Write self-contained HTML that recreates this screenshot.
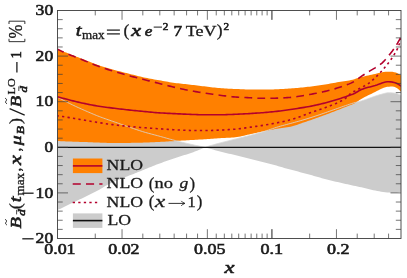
<!DOCTYPE html>
<html><head><meta charset="utf-8"><title>plot</title>
<style>
html,body{margin:0;padding:0;background:#fff;}
body{width:407px;height:278px;overflow:hidden;font-family:"Liberation Serif",serif;}
svg{display:block;will-change:transform;}
text{font-family:"Liberation Serif",serif;fill:#1a1a1a;}
.b{stroke:#1c1c1c;stroke-width:0.62px;}
.i{font-style:italic;}
.r{stroke:#1c1c1c;stroke-width:0.3px;}
.m{stroke:#1c1c1c;stroke-width:0.55px;}
</style></head><body>
<svg width="407" height="278" viewBox="0 0 407 278">
<rect width="407" height="278" fill="#fff"/>
<defs><clipPath id="c"><rect x="57.5" y="10.5" width="343.5" height="228.0"/></clipPath></defs>
<g clip-path="url(#c)">
<path d="M57.50,97.14 L58.99,97.96 L60.48,98.77 L61.98,99.56 L63.47,100.35 L64.96,101.13 L66.45,101.90 L67.94,102.65 L69.44,103.39 L70.93,104.12 L72.42,104.84 L73.91,105.55 L75.40,106.25 L76.89,106.95 L78.39,107.63 L79.88,108.31 L81.37,108.98 L82.86,109.64 L84.35,110.30 L85.85,110.95 L87.34,111.61 L88.83,112.25 L90.32,112.89 L91.81,113.53 L93.31,114.15 L94.80,114.77 L96.29,115.38 L97.78,115.97 L99.27,116.55 L100.77,117.11 L102.26,117.66 L103.75,118.20 L105.24,118.73 L106.73,119.25 L108.23,119.77 L109.72,120.28 L111.21,120.80 L112.70,121.32 L114.19,121.84 L115.68,122.37 L117.18,122.89 L118.67,123.42 L120.16,123.95 L121.65,124.48 L123.14,125.01 L124.64,125.53 L126.13,126.05 L127.62,126.57 L129.11,127.08 L130.60,127.59 L132.10,128.10 L133.59,128.61 L135.08,129.12 L136.57,129.62 L138.06,130.12 L139.56,130.61 L141.05,131.10 L142.54,131.57 L144.03,132.02 L145.52,132.46 L147.02,132.88 L148.51,133.30 L150.00,133.70 L151.49,134.09 L152.98,134.48 L154.47,134.87 L155.97,135.26 L157.46,135.66 L158.95,136.06 L160.44,136.47 L161.93,136.89 L163.43,137.31 L164.92,137.73 L166.41,138.15 L167.90,138.57 L169.39,138.99 L170.89,139.39 L172.38,139.79 L173.87,140.18 L175.36,140.56 L176.85,140.94 L178.35,141.32 L179.84,141.69 L181.33,142.06 L182.82,142.43 L184.31,142.78 L185.81,143.14 L187.30,143.49 L188.79,143.83 L190.28,144.17 L191.77,144.50 L193.26,144.83 L194.76,145.16 L196.25,145.48 L197.74,145.79 L199.23,146.10 L200.72,146.41 L202.22,146.71 L203.71,147.01 L205.20,147.30 L205.20,147.30 L207.18,146.68 L209.16,146.06 L211.13,145.46 L213.11,144.88 L215.09,144.31 L217.07,143.76 L219.04,143.23 L221.02,142.71 L223.00,142.19 L224.98,141.69 L226.96,141.19 L228.93,140.68 L230.91,140.18 L232.89,139.68 L234.87,139.18 L236.84,138.68 L238.82,138.19 L240.80,137.70 L242.78,137.21 L244.76,136.71 L246.73,136.21 L248.71,135.70 L250.69,135.19 L252.67,134.67 L254.64,134.15 L256.62,133.62 L258.60,133.08 L260.58,132.52 L262.56,131.95 L264.53,131.34 L266.51,130.70 L268.49,130.03 L270.47,129.36 L272.44,128.68 L274.42,128.02 L276.40,127.37 L278.38,126.75 L280.36,126.17 L282.33,125.63 L284.31,125.10 L286.29,124.58 L288.27,124.06 L290.24,123.52 L292.22,122.98 L294.20,122.44 L296.18,121.90 L298.16,121.36 L300.13,120.81 L302.11,120.24 L304.09,119.67 L306.07,119.07 L308.04,118.46 L310.02,117.84 L312.00,117.21 L313.98,116.57 L315.96,115.92 L317.93,115.26 L319.91,114.60 L321.89,113.93 L323.87,113.24 L325.84,112.55 L327.82,111.85 L329.80,111.14 L331.78,110.44 L333.76,109.74 L335.73,109.05 L337.71,108.35 L339.69,107.65 L341.67,106.95 L343.64,106.26 L345.62,105.58 L347.60,104.90 L349.58,104.24 L351.56,103.59 L353.53,102.98 L355.51,102.43 L357.49,101.95 L359.47,101.48 L361.44,100.95 L363.42,100.34 L365.40,99.64 L367.38,98.90 L369.36,98.16 L371.33,97.45 L373.31,96.78 L375.29,96.11 L377.27,95.46 L379.24,94.86 L381.22,94.32 L383.20,93.76 L385.18,93.23 L387.16,92.87 L389.13,92.81 L391.11,92.87 L393.09,92.96 L395.07,93.14 L397.04,93.67 L399.02,94.52 L401.00,95.54 L401.00,191.76 L399.02,192.27 L397.04,192.63 L395.07,192.72 L393.09,192.70 L391.11,192.66 L389.13,192.61 L387.16,192.52 L385.18,192.33 L383.20,192.05 L381.22,191.70 L379.24,191.32 L377.27,190.94 L375.29,190.57 L373.31,190.17 L371.33,189.72 L369.36,189.26 L367.38,188.78 L365.40,188.29 L363.42,187.82 L361.44,187.37 L359.47,186.94 L357.49,186.51 L355.51,186.08 L353.53,185.66 L351.56,185.23 L349.58,184.80 L347.60,184.37 L345.62,183.92 L343.64,183.47 L341.67,183.02 L339.69,182.57 L337.71,182.11 L335.73,181.65 L333.76,181.18 L331.78,180.71 L329.80,180.22 L327.82,179.73 L325.84,179.22 L323.87,178.69 L321.89,178.15 L319.91,177.60 L317.93,177.04 L315.96,176.47 L313.98,175.90 L312.00,175.34 L310.02,174.79 L308.04,174.24 L306.07,173.71 L304.09,173.18 L302.11,172.66 L300.13,172.14 L298.16,171.62 L296.18,171.10 L294.20,170.58 L292.22,170.06 L290.24,169.53 L288.27,168.99 L286.29,168.44 L284.31,167.88 L282.33,167.31 L280.36,166.75 L278.38,166.18 L276.40,165.62 L274.42,165.07 L272.44,164.52 L270.47,163.99 L268.49,163.47 L266.51,162.96 L264.53,162.46 L262.56,161.97 L260.58,161.48 L258.60,160.99 L256.62,160.51 L254.64,160.02 L252.67,159.53 L250.69,159.04 L248.71,158.54 L246.73,158.05 L244.76,157.56 L242.78,157.07 L240.80,156.58 L238.82,156.08 L236.84,155.59 L234.87,155.10 L232.89,154.61 L230.91,154.12 L228.93,153.63 L226.96,153.15 L224.98,152.67 L223.00,152.18 L221.02,151.69 L219.04,151.19 L217.07,150.68 L215.09,150.15 L213.11,149.61 L211.13,149.05 L209.16,148.48 L207.18,147.89 L205.20,147.30 L205.20,147.30 L203.71,147.96 L202.22,148.61 L200.72,149.24 L199.23,149.86 L197.74,150.46 L196.25,151.05 L194.76,151.61 L193.26,152.14 L191.77,152.67 L190.28,153.17 L188.79,153.67 L187.30,154.15 L185.81,154.63 L184.31,155.11 L182.82,155.58 L181.33,156.06 L179.84,156.54 L178.35,157.03 L176.85,157.53 L175.36,158.04 L173.87,158.54 L172.38,159.04 L170.89,159.55 L169.39,160.06 L167.90,160.57 L166.41,161.08 L164.92,161.60 L163.43,162.12 L161.93,162.65 L160.44,163.19 L158.95,163.74 L157.46,164.30 L155.97,164.87 L154.47,165.44 L152.98,166.03 L151.49,166.63 L150.00,167.23 L148.51,167.84 L147.02,168.45 L145.52,169.06 L144.03,169.67 L142.54,170.29 L141.05,170.90 L139.56,171.51 L138.06,172.12 L136.57,172.71 L135.08,173.30 L133.59,173.89 L132.10,174.47 L130.60,175.05 L129.11,175.62 L127.62,176.20 L126.13,176.79 L124.64,177.37 L123.14,177.96 L121.65,178.56 L120.16,179.17 L118.67,179.79 L117.18,180.42 L115.68,181.06 L114.19,181.71 L112.70,182.39 L111.21,183.08 L109.72,183.78 L108.23,184.51 L106.73,185.26 L105.24,186.07 L103.75,186.97 L102.26,187.91 L100.77,188.84 L99.27,189.71 L97.78,190.52 L96.29,191.31 L94.80,192.08 L93.31,192.84 L91.81,193.58 L90.32,194.31 L88.83,195.04 L87.34,195.76 L85.85,196.48 L84.35,197.21 L82.86,197.94 L81.37,198.66 L79.88,199.37 L78.39,200.08 L76.89,200.79 L75.40,201.50 L73.91,202.20 L72.42,202.91 L70.93,203.62 L69.44,204.34 L67.94,205.05 L66.45,205.77 L64.96,206.49 L63.47,207.21 L61.98,207.93 L60.48,208.65 L58.99,209.37 L57.50,210.09 Z" fill="#CCCCCC"/>
<path d="M57.50,49.26 L59.23,49.93 L60.95,50.60 L62.68,51.27 L64.40,51.94 L66.13,52.62 L67.86,53.29 L69.58,53.96 L71.31,54.63 L73.04,55.30 L74.76,55.97 L76.49,56.64 L78.21,57.31 L79.94,57.98 L81.67,58.65 L83.39,59.32 L85.12,59.99 L86.84,60.67 L88.57,61.36 L90.30,62.05 L92.02,62.73 L93.75,63.41 L95.47,64.07 L97.20,64.70 L98.93,65.31 L100.65,65.89 L102.38,66.45 L104.11,66.99 L105.83,67.52 L107.56,68.03 L109.28,68.54 L111.01,69.03 L112.74,69.52 L114.46,70.00 L116.19,70.47 L117.91,70.92 L119.64,71.37 L121.37,71.81 L123.09,72.24 L124.82,72.67 L126.55,73.10 L128.27,73.53 L130.00,73.96 L131.72,74.40 L133.45,74.84 L135.18,75.29 L136.90,75.73 L138.63,76.16 L140.35,76.59 L142.08,77.00 L143.81,77.38 L145.53,77.75 L147.26,78.10 L148.98,78.43 L150.71,78.75 L152.44,79.07 L154.16,79.38 L155.89,79.68 L157.62,79.99 L159.34,80.29 L161.07,80.60 L162.79,80.92 L164.52,81.23 L166.25,81.54 L167.97,81.84 L169.70,82.14 L171.42,82.41 L173.15,82.68 L174.88,82.92 L176.60,83.14 L178.33,83.35 L180.06,83.55 L181.78,83.74 L183.51,83.92 L185.23,84.10 L186.96,84.29 L188.69,84.48 L190.41,84.68 L192.14,84.89 L193.86,85.10 L195.59,85.31 L197.32,85.52 L199.04,85.73 L200.77,85.94 L202.49,86.14 L204.22,86.35 L205.95,86.55 L207.67,86.76 L209.40,86.97 L211.13,87.18 L212.85,87.39 L214.58,87.58 L216.30,87.76 L218.03,87.92 L219.76,88.06 L221.48,88.19 L223.21,88.31 L224.93,88.42 L226.66,88.53 L228.39,88.63 L230.11,88.72 L231.84,88.81 L233.57,88.89 L235.29,88.97 L237.02,89.05 L238.74,89.12 L240.47,89.20 L242.20,89.27 L243.92,89.33 L245.65,89.39 L247.37,89.43 L249.10,89.47 L250.83,89.50 L252.55,89.52 L254.28,89.54 L256.01,89.56 L257.73,89.58 L259.46,89.60 L261.18,89.61 L262.91,89.61 L264.64,89.62 L266.36,89.60 L268.09,89.58 L269.81,89.53 L271.54,89.48 L273.27,89.41 L274.99,89.34 L276.72,89.27 L278.44,89.19 L280.17,89.12 L281.90,89.03 L283.62,88.93 L285.35,88.83 L287.08,88.71 L288.80,88.59 L290.53,88.46 L292.25,88.33 L293.98,88.20 L295.71,88.06 L297.43,87.91 L299.16,87.76 L300.88,87.59 L302.61,87.42 L304.34,87.24 L306.06,87.06 L307.79,86.87 L309.52,86.67 L311.24,86.47 L312.97,86.25 L314.69,86.03 L316.42,85.80 L318.15,85.55 L319.87,85.30 L321.60,85.05 L323.32,84.78 L325.05,84.51 L326.78,84.22 L328.50,83.92 L330.23,83.60 L331.95,83.28 L333.68,82.95 L335.41,82.63 L337.13,82.31 L338.86,82.01 L340.59,81.73 L342.31,81.48 L344.04,81.24 L345.76,80.99 L347.49,80.72 L349.22,80.42 L350.94,80.07 L352.67,79.63 L354.39,79.14 L356.12,78.62 L357.85,78.09 L359.57,77.57 L361.30,77.09 L363.03,76.65 L364.75,76.23 L366.48,75.83 L368.20,75.43 L369.93,75.04 L371.66,74.66 L373.38,74.28 L375.11,73.91 L376.83,73.54 L378.56,73.12 L380.29,72.68 L382.01,72.28 L383.74,71.97 L385.46,71.83 L387.19,71.76 L388.92,71.72 L390.64,71.70 L392.37,71.78 L394.10,72.13 L395.82,72.60 L397.55,73.25 L399.27,74.15 L401.00,75.25 L401.00,91.67 L399.27,89.95 L397.55,88.61 L395.82,87.62 L394.10,86.82 L392.37,86.56 L390.64,86.61 L388.92,86.70 L387.19,86.84 L385.46,87.14 L383.74,87.78 L382.01,88.57 L380.29,89.33 L378.56,90.15 L376.83,91.02 L375.11,91.93 L373.38,92.84 L371.66,93.71 L369.93,94.55 L368.20,95.36 L366.48,96.18 L364.75,97.02 L363.03,97.91 L361.30,98.88 L359.57,100.04 L357.85,101.30 L356.12,102.52 L354.39,103.56 L352.67,104.32 L350.94,104.93 L349.22,105.54 L347.49,106.21 L345.76,106.89 L344.04,107.58 L342.31,108.27 L340.59,108.97 L338.86,109.67 L337.13,110.36 L335.41,111.04 L333.68,111.70 L331.95,112.36 L330.23,113.02 L328.50,113.67 L326.78,114.31 L325.05,114.95 L323.32,115.59 L321.60,116.22 L319.87,116.84 L318.15,117.46 L316.42,118.08 L314.69,118.69 L312.97,119.30 L311.24,119.90 L309.52,120.50 L307.79,121.09 L306.06,121.67 L304.34,122.25 L302.61,122.84 L300.88,123.45 L299.16,124.07 L297.43,124.67 L295.71,125.25 L293.98,125.78 L292.25,126.26 L290.53,126.67 L288.80,127.00 L287.08,127.28 L285.35,127.52 L283.62,127.75 L281.90,127.98 L280.17,128.22 L278.44,128.50 L276.72,128.79 L274.99,129.10 L273.27,129.41 L271.54,129.73 L269.81,130.06 L268.09,130.40 L266.36,130.74 L264.64,131.08 L262.91,131.44 L261.18,131.81 L259.46,132.19 L257.73,132.58 L256.01,132.97 L254.28,133.35 L252.55,133.74 L250.83,134.11 L249.10,134.48 L247.37,134.86 L245.65,135.26 L243.92,135.66 L242.20,136.05 L240.47,136.42 L238.74,136.75 L237.02,137.03 L235.29,137.24 L233.57,137.39 L231.84,137.52 L230.11,137.64 L228.39,137.73 L226.66,137.82 L224.93,137.91 L223.21,138.00 L221.48,138.09 L219.76,138.19 L218.03,138.30 L216.30,138.42 L214.58,138.55 L212.85,138.68 L211.13,138.81 L209.40,138.93 L207.67,139.06 L205.95,139.18 L204.22,139.29 L202.49,139.40 L200.77,139.50 L199.04,139.61 L197.32,139.70 L195.59,139.80 L193.86,139.90 L192.14,140.00 L190.41,140.10 L188.69,140.20 L186.96,140.30 L185.23,140.41 L183.51,140.51 L181.78,140.61 L180.06,140.72 L178.33,140.82 L176.60,140.93 L174.88,141.03 L173.15,141.13 L171.42,141.24 L169.70,141.35 L167.97,141.46 L166.25,141.57 L164.52,141.67 L162.79,141.77 L161.07,141.87 L159.34,141.95 L157.62,142.03 L155.89,142.12 L154.16,142.19 L152.44,142.27 L150.71,142.34 L148.98,142.41 L147.26,142.47 L145.53,142.53 L143.81,142.58 L142.08,142.63 L140.35,142.67 L138.63,142.72 L136.90,142.76 L135.18,142.80 L133.45,142.83 L131.72,142.86 L130.00,142.88 L128.27,142.89 L126.55,142.91 L124.82,142.92 L123.09,142.93 L121.37,142.95 L119.64,142.96 L117.91,142.96 L116.19,142.97 L114.46,142.97 L112.74,142.96 L111.01,142.94 L109.28,142.92 L107.56,142.88 L105.83,142.84 L104.11,142.79 L102.38,142.73 L100.65,142.67 L98.93,142.60 L97.20,142.54 L95.47,142.47 L93.75,142.39 L92.02,142.32 L90.30,142.25 L88.57,142.19 L86.84,142.12 L85.12,142.06 L83.39,142.00 L81.67,141.94 L79.94,141.88 L78.21,141.82 L76.49,141.76 L74.76,141.70 L73.04,141.64 L71.31,141.58 L69.58,141.51 L67.86,141.45 L66.13,141.38 L64.40,141.32 L62.68,141.25 L60.95,141.19 L59.23,141.12 L57.50,141.05 Z" fill="#FF8000"/>
<path d="M57.50,97.14 L58.99,97.96 L60.48,98.77 L61.98,99.56 L63.47,100.35 L64.96,101.13 L66.45,101.90 L67.94,102.65 L69.44,103.39 L70.93,104.12 L72.42,104.84 L73.91,105.55 L75.40,106.25 L76.89,106.95 L78.39,107.63 L79.88,108.31 L81.37,108.98 L82.86,109.64 L84.35,110.30 L85.85,110.95 L87.34,111.61 L88.83,112.25 L90.32,112.89 L91.81,113.53 L93.31,114.15 L94.80,114.77 L96.29,115.38 L97.78,115.97 L99.27,116.55 L100.77,117.11 L102.26,117.66 L103.75,118.20 L105.24,118.73 L106.73,119.25 L108.23,119.77 L109.72,120.28 L111.21,120.80 L112.70,121.32 L114.19,121.84 L115.68,122.37 L117.18,122.89 L118.67,123.42 L120.16,123.95 L121.65,124.48 L123.14,125.01 L124.64,125.53 L126.13,126.05 L127.62,126.57 L129.11,127.08 L130.60,127.59 L132.10,128.10 L133.59,128.61 L135.08,129.12 L136.57,129.62 L138.06,130.12 L139.56,130.61 L141.05,131.10 L142.54,131.57 L144.03,132.02 L145.52,132.46 L147.02,132.88 L148.51,133.30 L150.00,133.70 L151.49,134.09 L152.98,134.48 L154.47,134.87 L155.97,135.26 L157.46,135.66 L158.95,136.06 L160.44,136.47 L161.93,136.89 L163.43,137.31 L164.92,137.73 L166.41,138.15 L167.90,138.57 L169.39,138.99 L170.89,139.39 L172.38,139.79 L173.87,140.18 L175.36,140.56 L176.85,140.94 L178.35,141.32 L179.84,141.69 L181.33,142.06 L182.82,142.43 L184.31,142.78 L185.81,143.14 L187.30,143.49 L188.79,143.83 L190.28,144.17 L191.77,144.50 L193.26,144.83 L194.76,145.16 L196.25,145.48 L197.74,145.79 L199.23,146.10 L200.72,146.41 L202.22,146.71 L203.71,147.01 L205.20,147.30 L205.20,147.30 L207.18,146.68 L209.16,146.06 L211.13,145.46 L213.11,144.88 L215.09,144.31 L217.07,143.76 L219.04,143.23 L221.02,142.71 L223.00,142.19 L224.98,141.69 L226.96,141.19 L228.93,140.68 L230.91,140.18 L232.89,139.68 L234.87,139.18 L236.84,138.68 L238.82,138.19 L240.80,137.70 L242.78,137.21 L244.76,136.71 L246.73,136.21 L248.71,135.70 L250.69,135.19 L252.67,134.67 L254.64,134.15 L256.62,133.62 L258.60,133.08 L260.58,132.52 L262.56,131.95 L264.53,131.34 L266.51,130.70 L268.49,130.03 L270.47,129.36 L272.44,128.68 L274.42,128.02 L276.40,127.37 L278.38,126.75 L280.36,126.17 L282.33,125.63 L284.31,125.10 L286.29,124.58 L288.27,124.06 L290.24,123.52 L292.22,122.98 L294.20,122.44 L296.18,121.90 L298.16,121.36 L300.13,120.81 L302.11,120.24 L304.09,119.67 L306.07,119.07 L308.04,118.46 L310.02,117.84 L312.00,117.21 L313.98,116.57 L315.96,115.92 L317.93,115.26 L319.91,114.60 L321.89,113.93 L323.87,113.24 L325.84,112.55 L327.82,111.85 L329.80,111.14 L331.78,110.44 L333.76,109.74 L335.73,109.05 L337.71,108.35 L339.69,107.65 L341.67,106.95 L343.64,106.26 L345.62,105.58 L347.60,104.90 L349.58,104.24 L351.56,103.59 L353.53,102.98 L355.51,102.43 L357.49,101.95 L359.47,101.48 L361.44,100.95 L363.42,100.34 L365.40,99.64 L367.38,98.90 L369.36,98.16 L371.33,97.45 L373.31,96.78 L375.29,96.11 L377.27,95.46 L379.24,94.86 L381.22,94.32 L383.20,93.76 L385.18,93.23 L387.16,92.87 L389.13,92.81 L391.11,92.87 L393.09,92.96 L395.07,93.14 L397.04,93.67 L399.02,94.52 L401.00,95.54" fill="none" stroke="#d8d8d8" stroke-width="0.8"/>
<path d="M57.5,147.3 L401.0,147.3" stroke="#111" stroke-width="1.2" fill="none"/>
<path d="M57.50,96.68 L59.23,97.18 L60.95,97.67 L62.68,98.15 L64.40,98.62 L66.13,99.08 L67.86,99.54 L69.58,99.98 L71.31,100.42 L73.04,100.86 L74.76,101.28 L76.49,101.71 L78.21,102.12 L79.94,102.52 L81.67,102.91 L83.39,103.29 L85.12,103.65 L86.84,104.01 L88.57,104.35 L90.30,104.69 L92.02,105.02 L93.75,105.34 L95.47,105.64 L97.20,105.94 L98.93,106.22 L100.65,106.48 L102.38,106.74 L104.11,106.98 L105.83,107.21 L107.56,107.44 L109.28,107.66 L111.01,107.88 L112.74,108.09 L114.46,108.31 L116.19,108.52 L117.91,108.73 L119.64,108.93 L121.37,109.13 L123.09,109.32 L124.82,109.52 L126.55,109.71 L128.27,109.89 L130.00,110.08 L131.72,110.26 L133.45,110.43 L135.18,110.61 L136.90,110.78 L138.63,110.94 L140.35,111.11 L142.08,111.28 L143.81,111.44 L145.53,111.60 L147.26,111.77 L148.98,111.94 L150.71,112.11 L152.44,112.27 L154.16,112.43 L155.89,112.58 L157.62,112.71 L159.34,112.84 L161.07,112.95 L162.79,113.05 L164.52,113.15 L166.25,113.24 L167.97,113.33 L169.70,113.41 L171.42,113.50 L173.15,113.58 L174.88,113.67 L176.60,113.75 L178.33,113.83 L180.06,113.92 L181.78,114.00 L183.51,114.08 L185.23,114.15 L186.96,114.23 L188.69,114.29 L190.41,114.36 L192.14,114.43 L193.86,114.50 L195.59,114.57 L197.32,114.63 L199.04,114.69 L200.77,114.74 L202.49,114.77 L204.22,114.79 L205.95,114.79 L207.67,114.79 L209.40,114.79 L211.13,114.79 L212.85,114.79 L214.58,114.79 L216.30,114.79 L218.03,114.79 L219.76,114.79 L221.48,114.77 L223.21,114.74 L224.93,114.69 L226.66,114.64 L228.39,114.57 L230.11,114.51 L231.84,114.44 L233.57,114.37 L235.29,114.30 L237.02,114.23 L238.74,114.15 L240.47,114.07 L242.20,113.98 L243.92,113.88 L245.65,113.79 L247.37,113.69 L249.10,113.59 L250.83,113.49 L252.55,113.39 L254.28,113.28 L256.01,113.17 L257.73,113.06 L259.46,112.94 L261.18,112.81 L262.91,112.68 L264.64,112.54 L266.36,112.40 L268.09,112.24 L269.81,112.07 L271.54,111.90 L273.27,111.72 L274.99,111.53 L276.72,111.34 L278.44,111.14 L280.17,110.93 L281.90,110.71 L283.62,110.48 L285.35,110.23 L287.08,109.98 L288.80,109.73 L290.53,109.47 L292.25,109.20 L293.98,108.94 L295.71,108.68 L297.43,108.42 L299.16,108.15 L300.88,107.89 L302.61,107.62 L304.34,107.34 L306.06,107.05 L307.79,106.75 L309.52,106.43 L311.24,106.10 L312.97,105.75 L314.69,105.38 L316.42,105.00 L318.15,104.61 L319.87,104.21 L321.60,103.79 L323.32,103.36 L325.05,102.93 L326.78,102.48 L328.50,102.01 L330.23,101.52 L331.95,101.02 L333.68,100.52 L335.41,100.00 L337.13,99.47 L338.86,98.93 L340.59,98.39 L342.31,97.83 L344.04,97.25 L345.76,96.66 L347.49,96.06 L349.22,95.46 L350.94,94.85 L352.67,94.19 L354.39,93.45 L356.12,92.51 L357.85,91.46 L359.57,90.43 L361.30,89.55 L363.03,88.89 L364.75,88.32 L366.48,87.81 L368.20,87.35 L369.93,86.91 L371.66,86.47 L373.38,86.02 L375.11,85.53 L376.83,84.99 L378.56,84.35 L380.29,83.66 L382.01,83.01 L383.74,82.49 L385.46,82.08 L387.19,81.76 L388.92,81.69 L390.64,81.83 L392.37,82.10 L394.10,82.43 L395.82,82.96 L397.55,83.82 L399.27,84.92 L401.00,86.20" fill="none" stroke="#B3002D" stroke-width="1.6"/>
<path d="M57.50,49.26 L59.23,50.07 L60.95,50.86 L62.68,51.65 L64.40,52.43 L66.13,53.19 L67.86,53.94 L69.58,54.68 L71.31,55.41 L73.04,56.11 L74.76,56.81 L76.49,57.49 L78.21,58.18 L79.94,58.85 L81.67,59.53 L83.39,60.22 L85.12,60.91 L86.84,61.62 L88.57,62.34 L90.30,63.06 L92.02,63.78 L93.75,64.49 L95.47,65.18 L97.20,65.85 L98.93,66.49 L100.65,67.10 L102.38,67.69 L104.11,68.26 L105.83,68.82 L107.56,69.37 L109.28,69.90 L111.01,70.43 L112.74,70.95 L114.46,71.46 L116.19,71.98 L117.91,72.49 L119.64,73.00 L121.37,73.50 L123.09,74.00 L124.82,74.49 L126.55,74.98 L128.27,75.46 L130.00,75.94 L131.72,76.41 L133.45,76.88 L135.18,77.34 L136.90,77.79 L138.63,78.23 L140.35,78.67 L142.08,79.10 L143.81,79.54 L145.53,79.97 L147.26,80.41 L148.98,80.85 L150.71,81.29 L152.44,81.74 L154.16,82.18 L155.89,82.62 L157.62,83.06 L159.34,83.50 L161.07,83.94 L162.79,84.38 L164.52,84.82 L166.25,85.26 L167.97,85.70 L169.70,86.14 L171.42,86.57 L173.15,86.99 L174.88,87.40 L176.60,87.80 L178.33,88.20 L180.06,88.59 L181.78,88.97 L183.51,89.33 L185.23,89.68 L186.96,90.02 L188.69,90.35 L190.41,90.67 L192.14,90.99 L193.86,91.30 L195.59,91.60 L197.32,91.89 L199.04,92.17 L200.77,92.44 L202.49,92.70 L204.22,92.96 L205.95,93.22 L207.67,93.47 L209.40,93.72 L211.13,93.98 L212.85,94.23 L214.58,94.49 L216.30,94.74 L218.03,94.99 L219.76,95.23 L221.48,95.45 L223.21,95.67 L224.93,95.89 L226.66,96.10 L228.39,96.31 L230.11,96.51 L231.84,96.68 L233.57,96.84 L235.29,96.97 L237.02,97.08 L238.74,97.19 L240.47,97.28 L242.20,97.37 L243.92,97.45 L245.65,97.53 L247.37,97.62 L249.10,97.70 L250.83,97.80 L252.55,97.91 L254.28,98.02 L256.01,98.13 L257.73,98.23 L259.46,98.29 L261.18,98.32 L262.91,98.32 L264.64,98.32 L266.36,98.30 L268.09,98.29 L269.81,98.26 L271.54,98.24 L273.27,98.21 L274.99,98.19 L276.72,98.15 L278.44,98.09 L280.17,98.03 L281.90,97.95 L283.62,97.86 L285.35,97.77 L287.08,97.66 L288.80,97.55 L290.53,97.40 L292.25,97.21 L293.98,97.01 L295.71,96.79 L297.43,96.56 L299.16,96.31 L300.88,96.04 L302.61,95.76 L304.34,95.46 L306.06,95.15 L307.79,94.84 L309.52,94.53 L311.24,94.22 L312.97,93.90 L314.69,93.57 L316.42,93.24 L318.15,92.90 L319.87,92.55 L321.60,92.18 L323.32,91.80 L325.05,91.40 L326.78,90.98 L328.50,90.55 L330.23,90.09 L331.95,89.62 L333.68,89.13 L335.41,88.62 L337.13,88.09 L338.86,87.54 L340.59,86.98 L342.31,86.41 L344.04,85.82 L345.76,85.21 L347.49,84.56 L349.22,83.87 L350.94,83.12 L352.67,82.31 L354.39,81.42 L356.12,80.30 L357.85,79.00 L359.57,77.66 L361.30,76.42 L363.03,75.26 L364.75,74.12 L366.48,73.01 L368.20,71.93 L369.93,70.88 L371.66,69.88 L373.38,68.90 L375.11,67.90 L376.83,66.83 L378.56,65.71 L380.29,64.47 L382.01,63.03 L383.74,61.36 L385.46,59.53 L387.19,57.57 L388.92,55.41 L390.64,53.20 L392.37,50.97 L394.10,48.61 L395.82,46.02 L397.55,43.20 L399.27,40.17 L401.00,36.95" fill="none" stroke="#B3002D" stroke-width="1.6" stroke-dasharray="7.8 5.2" stroke-dashoffset="1"/>
<path d="M57.50,115.84 L59.23,116.08 L60.95,116.33 L62.68,116.58 L64.40,116.84 L66.13,117.10 L67.86,117.37 L69.58,117.64 L71.31,117.92 L73.04,118.21 L74.76,118.51 L76.49,118.81 L78.21,119.11 L79.94,119.42 L81.67,119.72 L83.39,120.02 L85.12,120.32 L86.84,120.61 L88.57,120.91 L90.30,121.21 L92.02,121.50 L93.75,121.79 L95.47,122.08 L97.20,122.36 L98.93,122.63 L100.65,122.90 L102.38,123.16 L104.11,123.42 L105.83,123.68 L107.56,123.93 L109.28,124.17 L111.01,124.41 L112.74,124.64 L114.46,124.86 L116.19,125.07 L117.91,125.28 L119.64,125.49 L121.37,125.69 L123.09,125.88 L124.82,126.07 L126.55,126.24 L128.27,126.42 L130.00,126.58 L131.72,126.73 L133.45,126.88 L135.18,127.02 L136.90,127.16 L138.63,127.30 L140.35,127.43 L142.08,127.56 L143.81,127.69 L145.53,127.82 L147.26,127.94 L148.98,128.07 L150.71,128.19 L152.44,128.32 L154.16,128.44 L155.89,128.56 L157.62,128.68 L159.34,128.80 L161.07,128.92 L162.79,129.04 L164.52,129.16 L166.25,129.28 L167.97,129.40 L169.70,129.51 L171.42,129.62 L173.15,129.72 L174.88,129.81 L176.60,129.90 L178.33,129.99 L180.06,130.08 L181.78,130.16 L183.51,130.24 L185.23,130.31 L186.96,130.37 L188.69,130.41 L190.41,130.44 L192.14,130.46 L193.86,130.49 L195.59,130.51 L197.32,130.53 L199.04,130.54 L200.77,130.55 L202.49,130.56 L204.22,130.56 L205.95,130.56 L207.67,130.53 L209.40,130.49 L211.13,130.44 L212.85,130.37 L214.58,130.30 L216.30,130.23 L218.03,130.16 L219.76,130.09 L221.48,130.01 L223.21,129.94 L224.93,129.85 L226.66,129.76 L228.39,129.66 L230.11,129.56 L231.84,129.44 L233.57,129.31 L235.29,129.18 L237.02,129.01 L238.74,128.81 L240.47,128.60 L242.20,128.36 L243.92,128.12 L245.65,127.86 L247.37,127.61 L249.10,127.36 L250.83,127.13 L252.55,126.89 L254.28,126.64 L256.01,126.39 L257.73,126.14 L259.46,125.88 L261.18,125.62 L262.91,125.35 L264.64,125.07 L266.36,124.79 L268.09,124.49 L269.81,124.20 L271.54,123.89 L273.27,123.58 L274.99,123.25 L276.72,122.91 L278.44,122.56 L280.17,122.20 L281.90,121.82 L283.62,121.43 L285.35,121.02 L287.08,120.60 L288.80,120.16 L290.53,119.70 L292.25,119.22 L293.98,118.73 L295.71,118.20 L297.43,117.63 L299.16,117.01 L300.88,116.37 L302.61,115.71 L304.34,115.04 L306.06,114.37 L307.79,113.71 L309.52,113.07 L311.24,112.46 L312.97,111.87 L314.69,111.28 L316.42,110.69 L318.15,110.10 L319.87,109.51 L321.60,108.91 L323.32,108.29 L325.05,107.65 L326.78,107.02 L328.50,106.38 L330.23,105.74 L331.95,105.09 L333.68,104.41 L335.41,103.69 L337.13,102.94 L338.86,102.14 L340.59,101.28 L342.31,100.37 L344.04,99.36 L345.76,98.21 L347.49,96.80 L349.22,94.86 L350.94,93.10 L352.67,92.06 L354.39,91.31 L356.12,90.52 L357.85,89.53 L359.57,88.48 L361.30,87.51 L363.03,86.63 L364.75,85.74 L366.48,84.74 L368.20,83.66 L369.93,82.43 L371.66,80.97 L373.38,79.35 L375.11,77.72 L376.83,76.07 L378.56,74.35 L380.29,72.55 L382.01,70.67 L383.74,68.72 L385.46,66.69 L387.19,64.56 L388.92,62.31 L390.64,59.96 L392.37,57.51 L394.10,54.78 L395.82,51.78 L397.55,48.66 L399.27,44.02 L401.00,38.77" fill="none" stroke="#B3002D" stroke-width="1.6" stroke-dasharray="2.3 3.25" stroke-dashoffset="1"/>
</g>

<rect x="72.9" y="158.5" width="29.5" height="14.6" fill="#FF8000"/>
<path d="M72.9,165.9 H102.4" stroke="#B3002D" stroke-width="1.6"/>
<path d="M72.7,184.0 H102.5" stroke="#B3002D" stroke-width="1.6" stroke-dasharray="8.1 5.2"/>
<path d="M72.7,202.5 H99" stroke="#B3002D" stroke-width="1.6" stroke-dasharray="2.3 3.25"/>
<rect x="72.9" y="213.4" width="29.5" height="14.5" fill="#CCCCCC"/>
<path d="M72.9,220.6 H102.4" stroke="#111" stroke-width="1.6"/>

<path d="M95.26,238.5 v-4.9 M95.26,10.5 v4.9 M122.04,238.5 v-9.3 M122.04,10.5 v9.3 M142.82,238.5 v-4.9 M142.82,10.5 v4.9 M159.80,238.5 v-4.9 M159.80,10.5 v4.9 M174.15,238.5 v-4.9 M174.15,10.5 v4.9 M186.59,238.5 v-4.9 M186.59,10.5 v4.9 M197.56,238.5 v-4.9 M197.56,10.5 v4.9 M207.37,238.5 v-9.3 M207.37,10.5 v9.3 M216.24,238.5 v-4.9 M216.24,10.5 v4.9 M224.34,238.5 v-4.9 M224.34,10.5 v4.9 M231.80,238.5 v-4.9 M231.80,10.5 v4.9 M238.70,238.5 v-4.9 M238.70,10.5 v4.9 M245.12,238.5 v-4.9 M245.12,10.5 v4.9 M251.13,238.5 v-4.9 M251.13,10.5 v4.9 M256.78,238.5 v-4.9 M256.78,10.5 v4.9 M262.10,238.5 v-4.9 M262.10,10.5 v4.9 M267.14,238.5 v-4.9 M267.14,10.5 v4.9 M271.91,238.5 v-9.3 M271.91,10.5 v9.3 M271.91,238.5 v-9.3 M271.91,10.5 v9.3 M309.67,238.5 v-4.9 M309.67,10.5 v4.9 M336.46,238.5 v-9.3 M336.46,10.5 v9.3 M357.23,238.5 v-4.9 M357.23,10.5 v4.9 M374.21,238.5 v-4.9 M374.21,10.5 v4.9 M388.57,238.5 v-4.9 M388.57,10.5 v4.9 M57.5,229.38 h5.2 M401.0,229.38 h-5.2 M57.5,220.26 h5.2 M401.0,220.26 h-5.2 M57.5,211.14 h5.2 M401.0,211.14 h-5.2 M57.5,202.02 h5.2 M401.0,202.02 h-5.2 M57.5,192.90 h10.5 M401.0,192.90 h-10.5 M57.5,183.78 h5.2 M401.0,183.78 h-5.2 M57.5,174.66 h5.2 M401.0,174.66 h-5.2 M57.5,165.54 h5.2 M401.0,165.54 h-5.2 M57.5,156.42 h5.2 M401.0,156.42 h-5.2 M57.5,147.30 h10.5 M401.0,147.30 h-10.5 M57.5,138.18 h5.2 M401.0,138.18 h-5.2 M57.5,129.06 h5.2 M401.0,129.06 h-5.2 M57.5,119.94 h5.2 M401.0,119.94 h-5.2 M57.5,110.82 h5.2 M401.0,110.82 h-5.2 M57.5,101.70 h10.5 M401.0,101.70 h-10.5 M57.5,92.58 h5.2 M401.0,92.58 h-5.2 M57.5,83.46 h5.2 M401.0,83.46 h-5.2 M57.5,74.34 h5.2 M401.0,74.34 h-5.2 M57.5,65.22 h5.2 M401.0,65.22 h-5.2 M57.5,56.10 h10.5 M401.0,56.10 h-10.5 M57.5,46.98 h5.2 M401.0,46.98 h-5.2 M57.5,37.86 h5.2 M401.0,37.86 h-5.2 M57.5,28.74 h5.2 M401.0,28.74 h-5.2 M57.5,19.62 h5.2 M401.0,19.62 h-5.2" stroke="#3c3c3c" stroke-width="0.7" fill="none"/>
<rect x="57.5" y="10.5" width="343.5" height="228.0" fill="none" stroke="#3c3c3c" stroke-width="0.9"/>
<text class="b" x="35.6" y="15.1" font-size="15.2" textLength="17.6" lengthAdjust="spacingAndGlyphs">30</text>
<text class="b" x="35.6" y="60.7" font-size="15.2" textLength="17.6" lengthAdjust="spacingAndGlyphs">20</text>
<text class="b" x="35.6" y="106.3" font-size="15.2" textLength="17.6" lengthAdjust="spacingAndGlyphs">10</text>
<text class="b" x="44.4" y="151.9" font-size="15.2" textLength="8.6" lengthAdjust="spacingAndGlyphs">0</text>
<text class="b" x="35.6" y="197.5" font-size="15.2" textLength="17.6" lengthAdjust="spacingAndGlyphs">10</text>
<path d="M22.3,193.2 H33.6" stroke="#1c1c1c" stroke-width="1.3" fill="none"/>
<text class="b" x="35.6" y="243.1" font-size="15.2" textLength="17.6" lengthAdjust="spacingAndGlyphs">20</text>
<path d="M22.3,238.8 H33.6" stroke="#1c1c1c" stroke-width="1.3" fill="none"/>
<text class="b" x="44.2" y="253.8" font-size="15.2" textLength="31.4" lengthAdjust="spacingAndGlyphs">0.01</text>
<text class="b" x="108.2" y="253.8" font-size="15.2" textLength="31.4" lengthAdjust="spacingAndGlyphs">0.02</text>
<text class="b" x="194.0" y="253.8" font-size="15.2" textLength="31.4" lengthAdjust="spacingAndGlyphs">0.05</text>
<text class="b" x="260.5" y="253.8" font-size="15.2" textLength="22.6" lengthAdjust="spacingAndGlyphs">0.1</text>
<text class="b" x="327.0" y="253.8" font-size="15.2" textLength="22.6" lengthAdjust="spacingAndGlyphs">0.2</text>
<text class="b i" x="224.6" y="272.8" font-size="16.6" textLength="10.0" lengthAdjust="spacingAndGlyphs">x</text>
<text class="r" x="106.6" y="170.0" font-size="15.2" textLength="36.4" lengthAdjust="spacingAndGlyphs">NLO</text>
<text class="r" x="106.6" y="188.3" font-size="15.2" textLength="36.4" lengthAdjust="spacingAndGlyphs">NLO</text>
<text class="r" x="106.6" y="206.6" font-size="15.2" textLength="36.4" lengthAdjust="spacingAndGlyphs">NLO</text>
<text class="r" x="107.4" y="225.2" font-size="15.2" textLength="23.6" lengthAdjust="spacingAndGlyphs">LO</text>
<text class="r" x="148.8" y="188.7" font-size="17.4" textLength="5.6" lengthAdjust="spacingAndGlyphs">(</text>
<text class="r" x="154.6" y="188.3" font-size="15.2" textLength="18.4" lengthAdjust="spacingAndGlyphs">no</text>
<text class="r i" x="179.4" y="188.3" font-size="15.6" textLength="8.8" lengthAdjust="spacingAndGlyphs">g</text>
<text class="r" x="189.6" y="188.7" font-size="17.4" textLength="5.6" lengthAdjust="spacingAndGlyphs">)</text>
<text class="r" x="148.8" y="207.0" font-size="17.4" textLength="5.6" lengthAdjust="spacingAndGlyphs">(</text>
<text class="r i" x="155.0" y="206.6" font-size="16.6" textLength="10.2" lengthAdjust="spacingAndGlyphs">x</text>
<path d="M168.5,203.4 H184.6 M181.3,200.9 q1.2,1.9 3.6,2.5 q-2.4,0.6 -3.6,2.5" stroke="#1c1c1c" stroke-width="0.9" fill="none"/>
<text class="r" x="187.6" y="206.6" font-size="15.2" textLength="8.2" lengthAdjust="spacingAndGlyphs">1</text>
<text class="r" x="196.8" y="207.0" font-size="17.4" textLength="5.6" lengthAdjust="spacingAndGlyphs">)</text>
<text class="b i" x="75.8" y="36.0" font-size="17.6" textLength="5.8" lengthAdjust="spacingAndGlyphs">t</text>
<text class="r" x="82.0" y="38.5" font-size="11.6" textLength="22.6" lengthAdjust="spacingAndGlyphs">max</text>
<path d="M106.9,30.1 H119.9" stroke="#1c1c1c" stroke-width="1.25" fill="none"/>
<path d="M106.9,33.9 H119.9" stroke="#1c1c1c" stroke-width="1.25" fill="none"/>
<text class="r" x="123.4" y="36.4" font-size="17.4" textLength="5.8" lengthAdjust="spacingAndGlyphs">(</text>
<text class="b i" x="131.2" y="36.0" font-size="16.6" textLength="9.8" lengthAdjust="spacingAndGlyphs">x</text>
<text class="b i" x="144.8" y="36.0" font-size="15.2" textLength="7.6" lengthAdjust="spacingAndGlyphs">e</text>
<path d="M153.7,27.1 H162.0" stroke="#1c1c1c" stroke-width="1.0" fill="none"/>
<text class="b" x="162.8" y="30.2" font-size="10.4" textLength="5.6" lengthAdjust="spacingAndGlyphs">2</text>
<text class="b" x="173.4" y="36.0" font-size="15.2" textLength="8.6" lengthAdjust="spacingAndGlyphs">7</text>
<text class="r" x="185.8" y="36.0" font-size="15.2" textLength="30.8" lengthAdjust="spacingAndGlyphs">TeV</text>
<text class="r" x="216.8" y="36.4" font-size="17.4" textLength="5.8" lengthAdjust="spacingAndGlyphs">)</text>
<text class="b" x="223.6" y="29.5" font-size="10.4" textLength="5.6" lengthAdjust="spacingAndGlyphs">2</text>
<g transform="translate(20.5,228.4) rotate(-90)"><text class="b i" x="0" y="0" font-size="15.2" textLength="11.4" lengthAdjust="spacingAndGlyphs">B</text><path d="M3.4,-13.7 c1.2,-1.6 2.0,-1.4 2.9,-0.7 c0.9,0.7 1.7,0.8 2.7,-0.9" stroke="#1c1c1c" stroke-width="1.0" fill="none"/><text class="b i" x="12.6" y="4.2" font-size="10.6" textLength="6.4" lengthAdjust="spacingAndGlyphs">d</text><path d="M14.0,-3.9 H18.6" stroke="#1c1c1c" stroke-width="0.8" fill="none"/><text class="r" x="19.2" y="0.4" font-size="17.4" textLength="6.0" lengthAdjust="spacingAndGlyphs">(</text><text class="b i" x="26.2" y="0" font-size="17.6" textLength="5.8" lengthAdjust="spacingAndGlyphs">t</text><text class="r" x="32.8" y="3.1" font-size="11.6" textLength="22.8" lengthAdjust="spacingAndGlyphs">max</text><text class="b" x="57.2" y="0" font-size="15.2" textLength="3.4" lengthAdjust="spacingAndGlyphs">,</text><text class="b i" x="63.4" y="0" font-size="16.6" textLength="10.0" lengthAdjust="spacingAndGlyphs">x</text><text class="b" x="77.2" y="0" font-size="15.2" textLength="3.4" lengthAdjust="spacingAndGlyphs">,</text><text class="b i" x="83.2" y="0" font-size="15.2" textLength="9.8" lengthAdjust="spacingAndGlyphs">μ</text><text class="b i" x="94.2" y="3.1" font-size="10.6" textLength="8.2" lengthAdjust="spacingAndGlyphs">B</text><text class="r" x="104.4" y="0.4" font-size="17.4" textLength="6.0" lengthAdjust="spacingAndGlyphs">)</text><path d="M113.3,4.2 L119.8,-10.9" stroke="#1c1c1c" stroke-width="1.3" fill="none"/><text class="b i" x="121.2" y="0" font-size="15.2" textLength="11.4" lengthAdjust="spacingAndGlyphs">B</text><path d="M124.6,-13.7 c1.2,-1.6 2.0,-1.4 2.9,-0.7 c0.9,0.7 1.7,0.8 2.7,-0.9" stroke="#1c1c1c" stroke-width="1.0" fill="none"/><text class="r" x="134.0" y="-5.9" font-size="10.8" textLength="16.0" lengthAdjust="spacingAndGlyphs">LO</text><text class="b i" x="136.0" y="6.4" font-size="10.6" textLength="6.4" lengthAdjust="spacingAndGlyphs">d</text><path d="M137.4,-1.7 H142.0" stroke="#1c1c1c" stroke-width="0.8" fill="none"/><path d="M155.8,-3.6 H166.4" stroke="#1c1c1c" stroke-width="1.3" fill="none"/><text class="b" x="170.0" y="0" font-size="15.2" textLength="7.4" lengthAdjust="spacingAndGlyphs">1</text><text class="r" x="189.9" y="1.2" font-size="18" textLength="13.8" lengthAdjust="spacingAndGlyphs">%</text><path d="M189.6,-11.5 H186.75 V4.35 H189.6 M204.4,-11.5 H207.2 V4.35 H204.4" stroke="#1c1c1c" stroke-width="0.9" fill="none"/></g>
</svg></body></html>
